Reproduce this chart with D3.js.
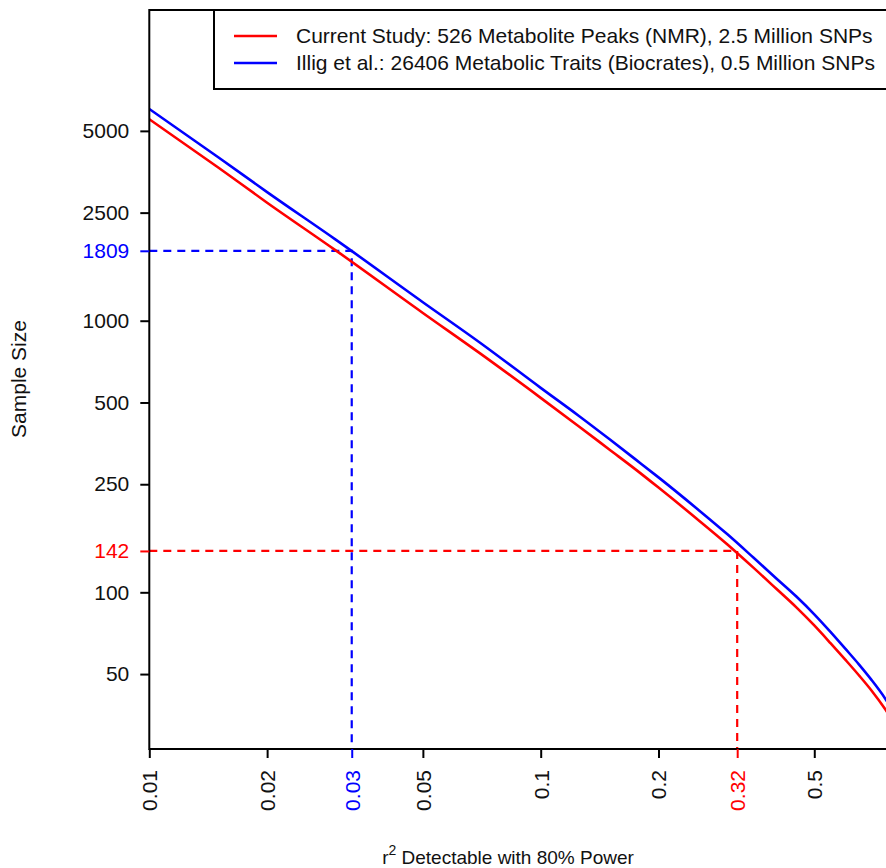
<!DOCTYPE html>
<html>
<head>
<meta charset="utf-8">
<script src="https://cdn.jsdelivr.net/npm/d3@7"></script>
<style>
  html, body { margin: 0; padding: 0; background: #fff; }
  svg { display: block; font-family: "Liberation Sans", Arial, Helvetica, sans-serif; }
</style>
</head>
<body>
<svg id="chart" width="886" height="868"></svg>
<script>
// ---- data ----
const r2Values   = [0.01, 0.015, 0.02, 0.03, 0.05, 0.07, 0.1, 0.125, 0.15, 0.175, 0.2, 0.25, 0.3, 0.35, 0.4, 0.45, 0.5, 0.55, 0.6, 0.65, 0.7, 0.76, 0.8];
const currentN   = [5520, 3665, 2720, 1812, 1068, 758, 520, 409, 335, 283, 243, 187, 150, 123, 103, 88, 75.5, 65, 56.5, 49.5, 43.5, 37, 33];
const illigN     = [6020, 4000, 2975, 1984, 1170, 830, 566, 447, 366, 308, 265, 204, 163.5, 134, 112.5, 96.5, 83, 71.5, 62, 54.3, 47.6, 40.5, 36];
const seriesNames = [
  "Current Study: 526 Metabolite Peaks (NMR), 2.5 Million SNPs",
  "Illig et al.: 26406 Metabolic Traits (Biocrates), 0.5 Million SNPs"
];
const seriesColors = ["#ff0000", "#0000ff"];
const xTickValues = [0.01, 0.02, 0.0329, 0.05, 0.1, 0.2, 0.3177, 0.5];
const xTickLabels = ["0.01", "0.02", "0.03", "0.05", "0.1", "0.2", "0.32", "0.5"];
const yTickValues = [50, 100, 142, 250, 500, 1000, 1809, 2500, 5000];
const yTickLabels = ["50", "100", "142", "250", "500", "1000", "1809", "2500", "5000"];
// highlighted thresholds
const markR2 = [0.0329, 0.3177];
const markN  = [1809, 142];
const markSeries = [1, 0];

// ---- layout ----
const svg = d3.select("#chart");
const pLeft = 149.3, pTop = 10, pBottom = 749;
const x = d3.scaleLog().domain([0.01, 0.8]).range([pLeft, pLeft + 391.4 * Math.log10(80)]);
const y = d3.scaleLog().domain([26.49, 13932]).range([pBottom, pTop]);
const pRight = x.range()[1];
const FS = 21;

svg.append("defs").append("clipPath").attr("id", "clip")
  .append("rect").attr("x", pLeft).attr("y", pTop).attr("width", pRight - pLeft).attr("height", pBottom - pTop);

const markColor = (v, arr) => v === arr[0] ? seriesColors[markSeries[0]] : v === arr[1] ? seriesColors[markSeries[1]] : null;

// threshold dashed lines
markR2.forEach((r, i) => {
  const col = seriesColors[markSeries[i]];
  svg.append("path")
    .attr("d", `M${pLeft},${y(markN[i])}H${x(r)}V${pBottom}`)
    .attr("fill", "none").attr("stroke", col).attr("stroke-width", 2.2)
    .attr("stroke-dasharray", "8,6");
});

// curves
const line = d3.line().x(d => x(d[0])).y(d => y(d[1])).curve(d3.curveMonotoneX);
[currentN, illigN].forEach((ser, i) => {
  svg.append("path")
    .datum(r2Values.map((r, j) => [r, ser[j]]))
    .attr("clip-path", "url(#clip)")
    .attr("d", line)
    .attr("fill", "none").attr("stroke", seriesColors[i]).attr("stroke-width", 2.6);
});

// box
svg.append("rect").attr("x", pLeft).attr("y", pTop).attr("width", 1000).attr("height", pBottom - pTop)
  .attr("fill", "none").attr("stroke", "#000").attr("stroke-width", 2);

// y axis
const yAxis = svg.append("g").attr("transform", `translate(${pLeft},0)`)
  .call(d3.axisLeft(y).tickValues(yTickValues).tickSizeOuter(0).tickSize(9).tickPadding(11)
    .tickFormat((d, i) => yTickLabels[i]));
yAxis.select(".domain").remove();
yAxis.selectAll(".tick line").attr("stroke-width", 2)
  .attr("stroke", d => markColor(d, markN) || "#000");
yAxis.selectAll(".tick text").attr("font-size", FS)
  .attr("fill", d => markColor(d, markN) || "#111");

// x axis
const xAxis = svg.append("g").attr("transform", `translate(0,${pBottom})`)
  .call(d3.axisBottom(x).tickValues(xTickValues).tickSizeOuter(0).tickSize(9)
    .tickFormat((d, i) => xTickLabels[i]));
xAxis.select(".domain").remove();
xAxis.selectAll(".tick line").attr("stroke-width", 2)
  .attr("stroke", d => markColor(d, markR2) || "#000");
xAxis.selectAll(".tick text").attr("font-size", FS)
  .attr("transform", "rotate(-90)")
  .attr("x", -21).attr("y", 0).attr("dy", "0.35em").attr("text-anchor", "end")
  .attr("fill", d => markColor(d, markR2) || "#111");
svg.selectAll("g").attr("font-family", null);

// axis titles
const xt = svg.append("text").attr("x", 508).attr("y", 864).attr("text-anchor", "middle")
  .attr("font-size", 19).attr("fill", "#111");
xt.append("tspan").text("r");
xt.append("tspan").attr("font-size", 14).attr("dy", -9).text("2");
xt.append("tspan").attr("dy", 9).text(" Detectable with 80% Power");

svg.append("text").attr("transform", "translate(26,379) rotate(-90)").attr("text-anchor", "middle")
  .attr("font-size", FS).attr("fill", "#111").text("Sample Size");

// legend
const lg = svg.append("g");
lg.append("rect").attr("x", 214).attr("y", pTop).attr("width", 1000).attr("height", 89 - pTop)
  .attr("fill", "#fff").attr("stroke", "#000").attr("stroke-width", 2);
seriesNames.forEach((name, i) => {
  const yy = 36 + i * 27;
  lg.append("line").attr("x1", 234).attr("x2", 277).attr("y1", yy).attr("y2", yy)
    .attr("stroke", seriesColors[i]).attr("stroke-width", 2.6);
  lg.append("text").attr("x", 296).attr("y", yy).attr("dy", "0.35em")
    .attr("font-size", FS).attr("fill", "#111").text(name);
});
</script>
</body>
</html>
